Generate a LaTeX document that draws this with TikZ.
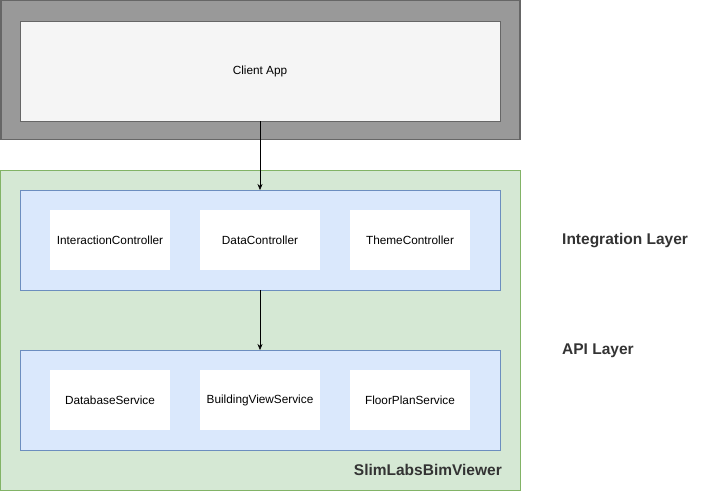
\documentclass[tikz,border=0pt]{standalone}
\usepackage{fontspec}
\setmainfont{Liberation Sans}
\usetikzlibrary{arrows.meta}

\definecolor{framegray}{HTML}{999999}
\definecolor{linegray}{HTML}{666666}
\definecolor{clientfill}{HTML}{F5F5F5}
\definecolor{greenfill}{HTML}{D5E8D4}
\definecolor{greenline}{HTML}{82B366}
\definecolor{bluefill}{HTML}{DAE8FC}
\definecolor{blueline}{HTML}{6C8EBF}
\definecolor{textdark}{HTML}{333333}

\tikzset{
  ->/.style={draw=black,-{Stealth[length=6pt,width=5pt]}},
  frame/.style={draw=linegray,fill=framegray,line width=1.5pt,inner sep=0pt,outer sep=0pt},
  client/.style={draw=linegray,fill=clientfill,inner sep=0pt,outer sep=0pt,
    minimum width=480pt,minimum height=100pt},
  group/.style={draw=greenline,fill=greenfill,inner sep=0pt,outer sep=0pt},
  layer/.style={draw=blueline,fill=bluefill,inner sep=0pt,outer sep=0pt,
    minimum width=480pt,minimum height=100pt},
  comp/.style={fill=white,inner sep=0pt,outer sep=0pt,
    minimum width=120pt,minimum height=60pt},
  title/.style={font=\fontsize{15.5}{18}\selectfont\bfseries,text=textdark,inner sep=0pt}
}
\tikzstyle{every node}=[font=\fontsize{11.8}{14}\selectfont]

\begin{document}
\begin{tikzpicture}[x=1pt,y=-1pt]
    \useasboundingbox (0,0) rectangle (711,491);
    % client side
    \node[frame,minimum width=519pt,minimum height=139pt] (host) at (260.5,70) {};
    \node[client] (app) at (260,71) {Client App};
    % viewer
    \node[group,minimum width=520pt,minimum height=320pt] (viewer) at (260.5,330) {};
    \node[layer] (integration) at (260,240) {};
    \node[comp] (interaction) at (110,240) {InteractionController};
    \node[comp] (data) at (260,240) {DataController};
    \node[comp] (theme) at (410,240) {ThemeController};
    \node[layer] (api) at (260,400) {};
    \node[comp] (database) at (110,400) {DatabaseService};
    \node[comp] (building) at (260,400) {BuildingViewService};
    \node[comp] (floorplan) at (410,400) {FloorPlanService};
    \draw[->] (app.south) -- (integration.north);
    \draw[->] (integration) -- (api);
    % labels
    \node[title,anchor=west] (intlabel) at (562,241) {Integration Layer};
    \node[title,anchor=west] (apilabel) at (562,351) {API Layer};
    \node[title,anchor=east] (viewerlabel) at (502,470) {SlimLabsBimViewer};
\end{tikzpicture}
\end{document}
